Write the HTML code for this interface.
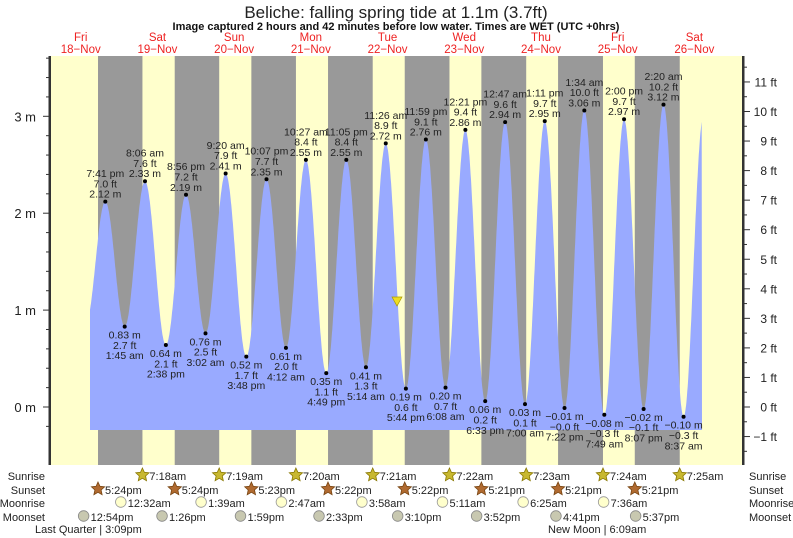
<!DOCTYPE html>
<html><head><meta charset="utf-8"><style>
body{margin:0;background:#fff}
svg{display:block;font-family:"Liberation Sans",sans-serif}
</style></head><body>
<svg id="s" width="793" height="538" xmlns="http://www.w3.org/2000/svg"></svg>
<script>
(function(){
const s=document.getElementById('s');
let h='';
const X=t=>42.4+3.196*t;
const Y=m=>407-96.9*m;
const TOP=56,BOT=465,L=50,R=743;
h+=`<rect x="${L}" y="${TOP}" width="${R-L}" height="${BOT-TOP}" fill="#ffffcc"/>`;
const ss=[17.4,17.4,17.38,17.37,17.37,17.35,17.35,17.35];
const sr=[7.3,7.32,7.33,7.35,7.37,7.38,7.4,7.42];
for(let d=0;d<8;d++){const a=X(d*24+ss[d]),b=X((d+1)*24+sr[d]);h+=`<rect x="${a}" y="${TOP}" width="${b-a}" height="${BOT-TOP}" fill="#999"/>`;}
const T=(d,hh,mm,pm)=>d*24+(hh%12)+(pm?12:0)+mm/60;
const ex=[[T(0,1,30,1),0.85],[T(0,7,41,1),2.12,'7:41 pm'],[T(1,1,45,0),0.83,'1:45 am'],[T(1,8,6,0),2.33,'8:06 am'],[T(1,2,38,1),0.64,'2:38 pm'],[T(1,8,56,1),2.19,'8:56 pm'],
[T(2,3,2,0),0.76,'3:02 am'],[T(2,9,20,0),2.41,'9:20 am'],[T(2,3,48,1),0.52,'3:48 pm'],[T(2,10,7,1),2.35,'10:07 pm'],
[T(3,4,12,0),0.61,'4:12 am'],[T(3,10,27,0),2.55,'10:27 am'],[T(3,4,49,1),0.35,'4:49 pm'],[T(3,11,5,1),2.55,'11:05 pm'],
[T(4,5,14,0),0.41,'5:14 am'],[T(4,11,26,0),2.72,'11:26 am'],[T(4,5,44,1),0.19,'5:44 pm'],[T(4,11,59,1),2.76,'11:59 pm'],
[T(5,6,8,0),0.20,'6:08 am'],[T(5,12,21,1),2.86,'12:21 pm'],[T(5,6,33,1),0.06,'6:33 pm'],
[T(6,12,47,0),2.94,'12:47 am'],[T(6,7,0,0),0.03,'7:00 am'],[T(6,1,11,1),2.95,'1:11 pm'],[T(6,7,22,1),-0.01,'7:22 pm'],
[T(7,1,34,0),3.06,'1:34 am'],[T(7,7,49,0),-0.08,'7:49 am'],[T(7,2,0,1),2.97,'2:00 pm'],[T(7,8,7,1),-0.02,'8:07 pm'],
[T(8,2,20,0),3.12,'2:20 am'],[T(8,8,37,0),-0.10,'8:37 am'],[T(8,2,50,1),3.0]];
function lv(t){for(let i=0;i<ex.length-1;i++){const a=ex[i][0],va=ex[i][1],b=ex[i+1][0],vb=ex[i+1][1];if(t>=a&&t<=b){const f=(1-Math.cos(Math.PI*(t-a)/(b-a)))/2;return va+(vb-va)*f;}}return 0;}
const t0=(90-42.4)/3.196,t1=(702-42.4)/3.196,yb=430;
let p=`M90 ${yb}`;for(let t=t0;t<=t1;t+=0.1)p+=` L${X(t).toFixed(1)} ${Y(lv(t)).toFixed(1)}`;p+=` L702 ${yb}Z`;
h+=`<path d="${p}" fill="#99aaff"/>`;
const fmt=v=>(v<0?'−':'')+Math.abs(v).toFixed(2);
const ft=v=>{let f=v*3.2808;let r=Math.abs(f).toFixed(1);return (v<0)?'−'+r:r;};
ex.forEach(e=>{if(!e[2])return;const x=X(e[0]),y=Y(e[1]);const hi=e[1]>1.5;
h+=`<circle cx="${x}" cy="${y}" r="2" fill="#000"/>`;
const ls=hi?[e[2],ft(e[1])+' ft',fmt(e[1])+' m']:[fmt(e[1])+' m',ft(e[1])+' ft',e[2]];
ls.forEach((l,k)=>{const yy=hi?y-4-(2-k)*10.3:y+12+k*10.3;h+=`<text x="${x}" y="${yy}" font-size="10.5" text-anchor="middle" fill="#222">${l}</text>`;});});
h+=`<rect x="${L-1.5}" y="${TOP}" width="2.5" height="${BOT-TOP}" fill="#333"/><rect x="${R-1}" y="${TOP}" width="2.5" height="${BOT-TOP}" fill="#333"/>`;
for(let i=-1;i<=18;i++){const m=i*0.2;const y=Y(m);const maj=i%5==0;h+=`<line x1="${maj?43:46}" x2="${L}" y1="${y}" y2="${y}" stroke="#333"/>`;if(maj)h+=`<text x="36" y="${y+5}" font-size="13" text-anchor="end" fill="#222">${i/5} m</text>`;}
for(let i=-3;i<=23;i++){const f=i/2;const y=407-29.55*f;if(y<TOP)continue;const maj=i%2==0;h+=`<line x1="${R}" x2="${R+(maj?7:4)}" y1="${y}" y2="${y}" stroke="#333"/>`;if(maj)h+=`<text x="777" y="${y+4.5}" font-size="12" text-anchor="end" fill="#222">${f<0?'−'+(-f):f} ft</text>`;}
h+=`<text x="396" y="18" font-size="17" text-anchor="middle" fill="#222">Beliche: falling  spring tide at 1.1m (3.7ft)</text>`;
h+=`<text x="396" y="30" font-size="11" font-weight="bold" text-anchor="middle" fill="#111">Image captured 2 hours and 42 minutes before low water. Times are WET (UTC +0hrs)</text>`;
const dn=['Fri','Sat','Sun','Mon','Tue','Wed','Thu','Fri','Sat'];
dn.forEach((d,i)=>{const x=X(i*24+12);h+=`<text x="${x}" y="41" font-size="11.5" text-anchor="middle" fill="#ee2222">${d}</text><text x="${x}" y="53" font-size="11.5" text-anchor="middle" fill="#ee2222">${18+i}−Nov</text>`;});
h+=`<polygon points="392,297 402,297 397,306" fill="#eedd22" stroke="#aa9900" stroke-width="0.7"/>`;
const rows=[['Sunrise',476],['Sunset',490],['Moonrise',503],['Moonset',517]];
rows.forEach(r=>{h+=`<text x="45" y="${r[1]+4}" font-size="11" text-anchor="end" fill="#222">${r[0]}</text><text x="749" y="${r[1]+4}" font-size="11" fill="#222">${r[0]}</text>`;});
function star(x,y,c,sc){let pts=[];for(let k=0;k<10;k++){const a=-Math.PI/2+k*Math.PI/5,rr=k%2?3.3:7;pts.push((x+rr*Math.cos(a)).toFixed(1)+','+(y+rr*Math.sin(a)).toFixed(1));}return `<polygon points="${pts.join(' ')}" fill="${c}" stroke="${sc}" stroke-width="0.8"/>`;}
const srt=['7:18am','7:19am','7:20am','7:21am','7:22am','7:23am','7:24am','7:25am'];
srt.forEach((l,i)=>{const x=X((i+1)*24+sr[i]);h+=star(x,475,'#c8b830','#887700')+`<text x="${x+7}" y="480" font-size="11" fill="#222">${l}</text>`;});
const sst=['5:24pm','5:24pm','5:23pm','5:22pm','5:22pm','5:21pm','5:21pm','5:21pm'];
sst.forEach((l,i)=>{const x=X(i*24+ss[i]);h+=star(x,489,'#b06a30','#774411')+`<text x="${x+7}" y="494" font-size="11" fill="#222">${l}</text>`;});
const mr=[[T(1,12,32,0),'12:32am'],[T(2,1,39,0),'1:39am'],[T(3,2,47,0),'2:47am'],[T(4,3,58,0),'3:58am'],[T(5,5,11,0),'5:11am'],[T(6,6,25,0),'6:25am'],[T(7,7,36,0),'7:36am']];
mr.forEach(([t,l])=>{const x=X(t);h+=`<circle cx="${x}" cy="502" r="5.3" fill="#ffffcc" stroke="#999" stroke-width="0.8"/><text x="${x+7}" y="507" font-size="11" fill="#222">${l}</text>`;});
const ms=[[T(0,12,54,1),'12:54pm'],[T(1,1,26,1),'1:26pm'],[T(2,1,59,1),'1:59pm'],[T(3,2,33,1),'2:33pm'],[T(4,3,10,1),'3:10pm'],[T(5,3,52,1),'3:52pm'],[T(6,4,41,1),'4:41pm'],[T(7,5,37,1),'5:37pm']];
ms.forEach(([t,l])=>{const x=X(t);h+=`<circle cx="${x}" cy="516" r="5.3" fill="#c8c8b0" stroke="#888" stroke-width="0.8"/><text x="${x+7}" y="521" font-size="11" fill="#222">${l}</text>`;});
h+=`<text x="35" y="533" font-size="11" fill="#222">Last Quarter | 3:09pm</text><text x="548" y="533" font-size="11" fill="#222">New Moon | 6:09am</text>`;
s.innerHTML=h;
})();
</script>
</body></html>
